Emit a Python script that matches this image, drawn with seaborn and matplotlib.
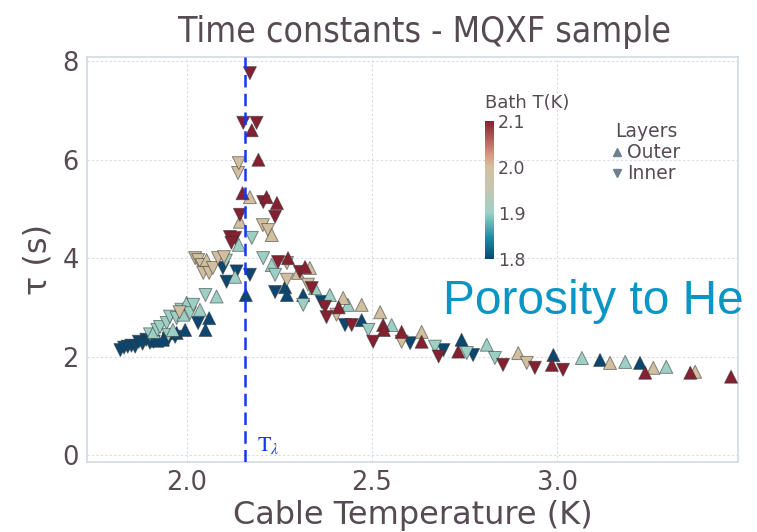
import matplotlib
matplotlib.use('Agg')
import matplotlib.pyplot as plt
import matplotlib.colors as mcolors
from matplotlib.lines import Line2D
import numpy as np
import pandas as pd
import seaborn as sns

# cable temperature (K), time constant (s), bath temperature (K), layer
bath_18_T = [1.82, 1.83, 1.84, 1.85, 1.86, 1.87, 1.88, 1.89, 1.90, 1.91, 1.92, 1.935, 1.95,
             1.968, 1.972, 1.995, 2.03, 2.05, 2.06, 2.097, 2.107, 2.134, 2.17, 2.159,
             2.238, 2.265, 2.27, 2.314, 2.364, 2.427, 2.472, 2.603, 2.693, 2.742, 2.773,
             2.99, 3.116, 3.224]
bath_18_tau = [2.13, 2.18, 2.20, 2.22, 2.20, 2.30, 2.26, 2.34, 2.28, 2.30, 2.32, 2.34, 2.36,
               2.40, 2.48, 2.54, 2.68, 2.54, 2.78, 3.80, 3.52, 3.73, 3.66, 3.25,
               3.31, 3.41, 3.25, 3.25, 3.11, 2.64, 2.74, 2.27, 2.13, 2.34, 2.03,
               2.03, 1.93, 1.87]
bath_18_layer = list('vvvvvvvvvv^^v' 'v^^v^^vvvv^' 'v^^^vv^v' 'v^v' '^^^')

bath_19_T = [1.90, 1.91, 1.92, 1.927, 1.945, 1.95, 1.954, 1.962, 1.972, 1.985, 1.99, 1.999,
             2.008, 2.017, 2.035, 2.05, 2.08, 2.105, 2.13, 2.14, 2.175, 2.206, 2.229, 2.238,
             2.314, 2.346, 2.386, 2.435, 2.49, 2.553, 2.67, 2.756, 2.81, 2.832, 3.067, 3.184,
             3.295]
bath_19_tau = [2.45, 2.50, 2.54, 2.60, 2.68, 2.44, 2.81, 2.54, 2.78, 2.95, 2.85, 3.09,
               2.88, 3.05, 2.95, 3.25, 3.22, 3.95, 3.62, 4.27, 4.41, 4.00, 3.86, 3.66,
               3.05, 3.39, 3.25, 3.05, 2.54, 2.64, 2.20, 2.07, 2.24, 1.97, 1.97, 1.89,
               1.79]
bath_19_layer = list('v^vvvvv^vv^^' 'vv^v^v^^vv^v' 'v^^^v^vv^v^^' '^')

bath_20_T = [1.98, 2.022, 2.03, 2.04, 2.044, 2.053, 2.06, 2.07, 2.084, 2.10, 2.138, 2.14,
             2.143, 2.17, 2.205, 2.219, 2.229, 2.27, 2.27, 2.30, 2.332, 2.327, 2.404, 2.422,
             2.472, 2.522, 2.58, 2.634, 2.895, 2.918, 3.143, 3.26, 3.373]
bath_20_tau = [2.90, 4.00, 3.96, 3.86, 3.70, 3.96, 3.70, 3.80, 4.00, 4.02, 5.73, 5.93,
               4.74, 5.24, 4.67, 4.57, 4.47, 3.90, 3.56, 3.70, 3.80, 3.46, 2.85, 3.19,
               3.05, 2.90, 2.30, 2.50, 2.07, 1.87, 1.87, 1.77, 1.69]
bath_20_layer = list('vvvvv^vvvvvv' '^^vv^vv^^vv^' '^^v^^v^^^')

bath_21_T = [2.116, 2.13, 2.12, 2.143, 2.15, 2.152, 2.17, 2.175, 2.188, 2.193, 2.206, 2.215,
             2.243, 2.238, 2.246, 2.273, 2.305, 2.319, 2.337, 2.373, 2.377, 2.41, 2.445, 2.503,
             2.53, 2.532, 2.58, 2.634, 2.68, 2.733, 2.854, 2.94, 2.986, 3.016, 3.238, 3.36,
             3.47]
bath_21_tau = [4.43, 4.41, 4.31, 4.88, 5.32, 6.75, 7.76, 6.60, 6.75, 6.00, 5.14, 5.24,
               5.12, 4.84, 3.92, 4.00, 3.72, 3.82, 3.39, 3.01, 2.80, 3.00, 2.64, 2.30,
               2.64, 2.54, 2.50, 2.30, 2.00, 2.10, 1.83, 1.77, 1.83, 1.73, 1.67, 1.67,
               1.59]
bath_21_layer = list('vvvv^vv^v^v^' '^vv^v^vvv^vv' '^^^^v^vv^v^^' '^')

bath_levels = [1.8, 1.9, 2.0, 2.1]
T_lambda = 2.158

frames = []
for b, T, tau, lay in zip(bath_levels,
                          [bath_18_T, bath_19_T, bath_20_T, bath_21_T],
                          [bath_18_tau, bath_19_tau, bath_20_tau, bath_21_tau],
                          [bath_18_layer, bath_19_layer, bath_20_layer, bath_21_layer]):
    frames.append(pd.DataFrame({'cable_T': T, 'tau': tau, 'bath': b,
                                'layer': ['Outer' if m == '^' else 'Inner' for m in lay]}))
df = pd.concat(frames, ignore_index=True)

cmap = mcolors.LinearSegmentedColormap.from_list('bath', [
    (0.0, '#0b4770'), (0.15, '#138ea3'), (0.333, '#9dd0c5'), (0.5, '#c4c6b2'),
    (0.667, '#d2bf9f'), (0.75, '#d49b82'), (1.0, '#842030')])
norm = mcolors.Normalize(1.8, 2.1)

sns.set_style('white')
grey = '#564b53'
plt.rcParams['font.family'] = ['DejaVu Sans']
plt.rcParams['mathtext.fontset'] = 'stix'

fig = plt.figure(figsize=(7.57, 5.32), dpi=100)
ax = fig.add_axes([0.115, 0.132, 0.86, 0.761])

sns.scatterplot(data=df, x='cable_T', y='tau', hue='bath', style='layer',
                markers={'Outer': '^', 'Inner': 'v'}, palette=cmap, hue_norm=norm,
                s=88, edgecolor=(0.2, 0.2, 0.2, 0.55), linewidth=0.7, legend=False,
                ax=ax, zorder=3)

ax.axvline(T_lambda, color='#1238f5', lw=1.8, ls=(0, (5, 2.5)), zorder=4)
ax.text(T_lambda + 0.03, 0.08, r'$\mathrm{T}_{\lambda}$', color='#1238f5', fontsize=16)

ax.set_xlim(1.73, 3.489)
ax.set_ylim(-0.14, 8.09)
ax.set_xticks([2.0, 2.5, 3.0])
ax.set_yticks([0, 2, 4, 6, 8])
ax.grid(True, ls=(0, (2, 2)), color='#d6dce4', lw=0.8)
for s in ax.spines.values():
    s.set_color('#d3d9df')
    s.set_linewidth(1.2)
ax.tick_params(length=0, labelsize=18.5, colors=grey, pad=6)
ax.set_xlabel('Cable Temperature (K)', fontsize=23, color=grey, labelpad=3)
ax.set_ylabel('τ (s)', fontsize=23, color=grey, labelpad=6)
ax.set_title('Time constants - MQXF sample', fontsize=25.5, fontstretch='condensed',
             color=grey, pad=11, x=0.518)

ax.text(0.547, 0.395, 'Porosity to He', transform=ax.transAxes, fontsize=34.5,
        family='Liberation Sans', color='#0a96c5', va='center', clip_on=False)

# colorbar
cax = fig.add_axes([0.641, 0.513, 0.011, 0.26])
sm = plt.cm.ScalarMappable(cmap=cmap, norm=norm)
cb = fig.colorbar(sm, cax=cax, ticks=[1.8, 1.9, 2.0, 2.1])
cb.outline.set_visible(False)
cb.ax.tick_params(length=0, labelsize=12.5, colors=grey, pad=3)
cb.ax.set_yticklabels(['1.8', '1.9', '2.0', '2.1'])
cax.set_title('Bath T(K)', fontsize=13, color=grey, loc='left', pad=9)

handles = [Line2D([], [], ls='', marker='^', color='#6c8291', markersize=6),
           Line2D([], [], ls='', marker='v', color='#6c8291', markersize=6)]
leg = ax.legend(handles, ['Outer', 'Inner'], title='Layers', frameon=False,
                loc='upper left', bbox_to_anchor=(0.78, 0.88), fontsize=13.5,
                title_fontsize=13.5, handlelength=0.6, handletextpad=0.2,
                labelspacing=0.1, labelcolor=grey)
leg.get_title().set_color(grey)

fig.savefig('out.png', dpi=100)
